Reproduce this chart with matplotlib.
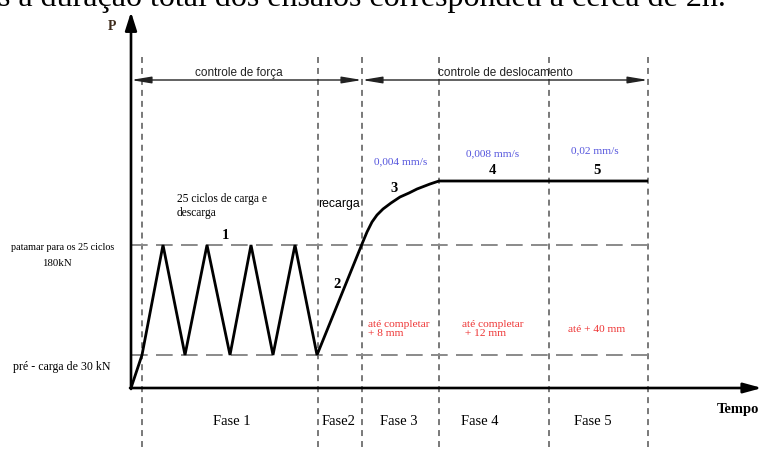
import numpy as np
import matplotlib
matplotlib.use("Agg")
import matplotlib.pyplot as plt

plt.rcParams['lines.scale_dashes'] = False
SERIF = 'Liberation Serif'
SANS = 'Liberation Sans'

# Load path of the test (schematic units: time along x, load along y)
load_time = [0, 11, 32, 54, 76, 99, 120, 142, 164, 186, 231,
             236, 241, 246, 252, 260, 269, 278, 286, 299, 308, 517]
load_level = [0, 33, 143, 33, 143, 33, 143, 33, 143, 33, 144,
              156, 166, 173, 179, 185, 191, 195, 199, 204, 207, 207]

# Reference load levels
preload_level = 33      # pré-carga de 30 kN
cycle_level = 143       # patamar para os 25 ciclos (180 kN)

# Phase boundaries along the time axis
phase_bounds = [11, 187, 231, 308, 418, 517]
phase_labels = ['Fase 1', 'Fase2', 'Fase 3', 'Fase 4', 'Fase 5']
phase_label_x = [101, 208, 268, 349, 462]

# Step numbers along the curve
step_labels = ['1', '2', '3', '4', '5']
step_x = [94, 206, 263, 361, 466]
step_y = [153, 104, 200, 218, 219]

# Displacement rates (blue) and targets (red)
rate_labels = ['0,004 mm/s', '0,008 mm/s', '0,02 mm/s']
rate_x = [270, 362, 464]
rate_y = [227, 235, 238]
target_labels = ['até completar\n+ 8 mm', 'até completar\n + 12 mm', 'até + 40 mm']
target_x = [237, 331, 466]
target_y = [60, 60, 59]
target_ha = ['left', 'left', 'center']

W, H = 763, 452
fig = plt.figure(figsize=(W / 100, H / 100), dpi=100)
ax = fig.add_axes([0, 0, 1, 1])
x0, y0 = 131, 389
ax.set_xlim(-x0, W - x0)
ax.set_ylim(-(H - y0), y0)
ax.axis('off')

# Caption line of the surrounding text, cut by the top edge
ax.text(-x0 - 2, y0 - 6, 's a duração total dos ensaios correspondeu a cerca de 2h.',
        family=SERIF, fontsize=23, ha='left', va='baseline', color='black',
        clip_on=False)

# Vertical phase separators
for xb in phase_bounds:
    ax.plot([xb, xb], [331, -(H - y0)], color='#555555', lw=1.1,
            dashes=(4.3, 3.6), zorder=1)

# Horizontal load levels
for lv in (preload_level, cycle_level):
    ax.plot([0, 522], [lv, lv], color='#8a8a8a', lw=1.4, dashes=(12, 6), zorder=1)

# Axes with arrows
ax.annotate('', xy=(0, y0 - 13), xytext=(0, -1),
            arrowprops=dict(arrowstyle='-|>,head_length=1.1,head_width=0.35',
                            lw=1.9, color='black', shrinkA=0, shrinkB=0))
ax.annotate('', xy=(W - x0 - 1, 0), xytext=(-1, 0),
            arrowprops=dict(arrowstyle='-|>,head_length=1.1,head_width=0.3',
                            lw=1.9, color='black', shrinkA=0, shrinkB=0))
ax.text(-19, 362, 'P', family=SERIF, fontsize=10, fontweight='bold',
        color='#3d2a1a', ha='center', va='center')
ax.text(607, -21, 'Tempo', family=SERIF, fontsize=10.5, fontweight='bold',
        ha='center', va='center')

# Load path
ax.plot(load_time, load_level, color='black', lw=2.0, solid_joinstyle='miter',
        solid_capstyle='butt', zorder=3)

# Control mode arrows
ctrl_y = 308
for a, b, lab in [(0, 231, 'controle de força'), (231, 517, 'controle de deslocamento')]:
    ax.annotate('', xy=(b, ctrl_y), xytext=(a, ctrl_y),
                arrowprops=dict(arrowstyle='<|-|>,head_length=1.2,head_width=0.2',
                                lw=1.0, color='#222222', shrinkA=0, shrinkB=0))
    ax.text((a + b) / 2 + (-8 if a == 0 else 0), ctrl_y + 8, lab, family=SANS,
            fontsize=8.5, ha='center', va='center', color='#222222')

# Phase names
for lab, xp in zip(phase_labels, phase_label_x):
    ax.text(xp, -33, lab, family=SERIF, fontsize=10.5, ha='center', va='center')

# Step numbers
for lab, xs, ys in zip(step_labels, step_x, step_y):
    ax.text(xs, ys, lab, family=SERIF, fontsize=10.5, fontweight='bold',
            ha='center', va='center')

# Rates and targets
for lab, xs, ys in zip(rate_labels, rate_x, rate_y):
    ax.text(xs, ys, lab, family=SERIF, fontsize=8.2, color='#5555dd',
            ha='center', va='center')
for lab, xs, ys, ha in zip(target_labels, target_x, target_y, target_ha):
    ax.text(xs, ys, lab, family=SERIF, fontsize=8.2, color='#ee3333',
            ha=ha, va='center', linespacing=1.1)

# Annotations in the force-controlled zone
ax.text(46, 183, '25 ciclos de carga e\ndescarga', family=SERIF, fontsize=8.3,
        ha='left', va='center', linespacing=1.15)
ax.text(208, 185, 'recarga', family=SANS, fontsize=8.8, ha='center', va='center')

# Load level labels on the left
ax.text(-68, 141, 'patamar para os 25 ciclos', family=SERIF, fontsize=7.3,
        ha='center', va='center')
ax.text(-74, 126, '180kN', family=SERIF, fontsize=7.8, ha='center', va='center')
ax.text(-69, 22, 'pré - carga de 30 kN', family=SERIF, fontsize=8.6,
        ha='center', va='center')

fig.savefig('out.png', dpi=100)
